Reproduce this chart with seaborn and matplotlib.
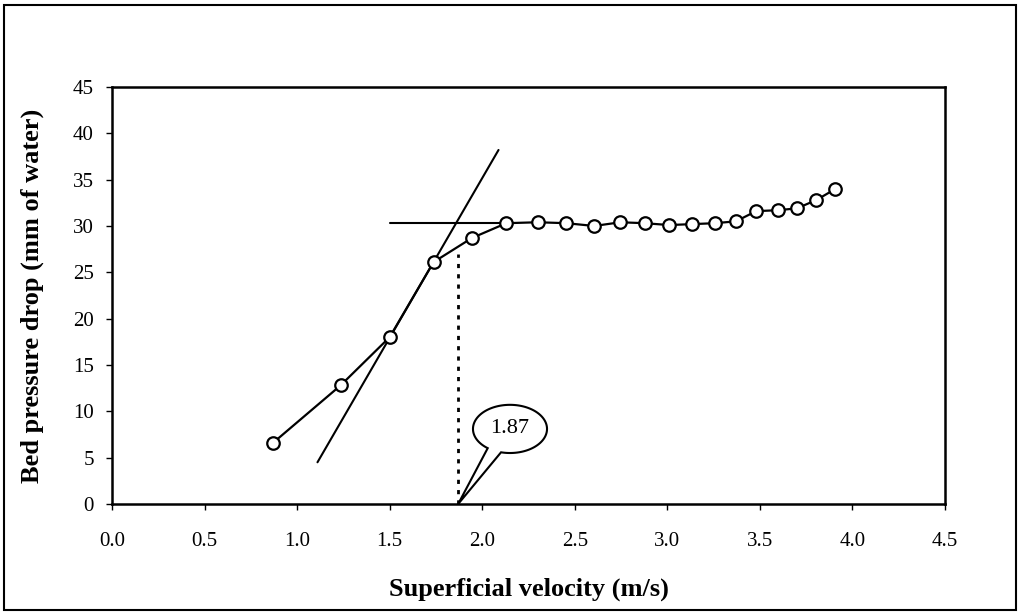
import numpy as np
import pandas as pd
import matplotlib
matplotlib.use("Agg")
import matplotlib.pyplot as plt
from matplotlib.patches import Polygon, Rectangle
import seaborn as sns

# measured points
velocity = [0.87, 1.235, 1.50, 1.737, 1.944, 2.13, 2.30, 2.454, 2.605, 2.746,
            2.877, 3.009, 3.135, 3.257, 3.37, 3.48, 3.596, 3.70, 3.805, 3.908]
pressure = [6.6, 12.8, 18.0, 26.1, 28.7, 30.3, 30.4, 30.3, 30.0, 30.4,
            30.3, 30.1, 30.2, 30.3, 30.5, 31.6, 31.7, 31.9, 32.8, 34.0]

# construction lines
tangent_x = [1.11, 2.088]
tangent_y = [4.5, 38.2]
plateau_x = [1.50, 2.12]
plateau_y = [30.3, 30.3]
umf = 1.87
umf_label = "1.87"

xticks = [0.0, 0.5, 1.0, 1.5, 2.0, 2.5, 3.0, 3.5, 4.0, 4.5]
yticks = [0, 5, 10, 15, 20, 25, 30, 35, 40, 45]

df = pd.DataFrame({"v": velocity, "dp": pressure})

sns.set_theme(style="white")
plt.rcParams["font.family"] = ["Liberation Serif", "DejaVu Serif"]
plt.rcParams["text.color"] = "black"
plt.rcParams["axes.labelcolor"] = "black"
plt.rcParams["xtick.color"] = "black"
plt.rcParams["ytick.color"] = "black"

fig = plt.figure(figsize=(10.2, 6.12), dpi=100)
ax = fig.add_axes([0.1098, 0.1765, 0.8167, 0.6814])

sns.lineplot(data=df, x="v", y="dp", ax=ax, color="black", lw=1.6,
             marker="o", markersize=9, markerfacecolor="white",
             markeredgecolor="black", markeredgewidth=1.6, zorder=4)

ax.plot(tangent_x, tangent_y, color="black", lw=1.5, zorder=3)
ax.plot(plateau_x, plateau_y, color="black", lw=1.5, zorder=3)
ax.plot([umf, umf], [0, 27], color="black", lw=2,
        linestyle=(0, (1.5, 2.2)), dash_capstyle="butt", zorder=3)

# callout bubble
cx, cy, w, h = 2.15, 8.1, 0.40, 5.2
t = np.linspace(np.deg2rad(-104), np.deg2rad(233), 120)
ex = cx + w / 2 * np.cos(t)
ey = cy + h / 2 * np.sin(t)
pts = np.column_stack([ex, ey])
pts = np.vstack([pts, [[umf, 0.0]]])
ax.add_patch(Polygon(pts, closed=True, facecolor="white", edgecolor="black",
                     lw=1.5, zorder=5, clip_on=False))
ax.text(cx, cy, umf_label, ha="center", va="center", fontsize=16, zorder=6)

ax.set_xlim(0, 4.5)
ax.set_ylim(0, 45)
ax.set_xticks(xticks)
ax.set_xticklabels([f"{v:.1f}" for v in xticks])
ax.set_yticks(yticks)
ax.tick_params(axis="both", which="major", direction="out", length=4,
               width=1, color="black", labelsize=15, bottom=True, left=True)
ax.tick_params(axis="x", pad=16)
ax.tick_params(axis="y", pad=9)
for s in ax.spines.values():
    s.set_color("black")
    s.set_linewidth(1.8)

ax.set_xlabel("Superficial velocity (m/s)", fontsize=19, fontweight="bold", labelpad=19)
ax.set_ylabel("Bed pressure drop (mm of water)", fontsize=19, fontweight="bold", labelpad=21)

fig.patches.append(Rectangle((0.004, 0.004), 0.992, 0.988, transform=fig.transFigure,
                             fill=False, edgecolor="black", lw=1.5))

fig.savefig("out.png", dpi=100)
